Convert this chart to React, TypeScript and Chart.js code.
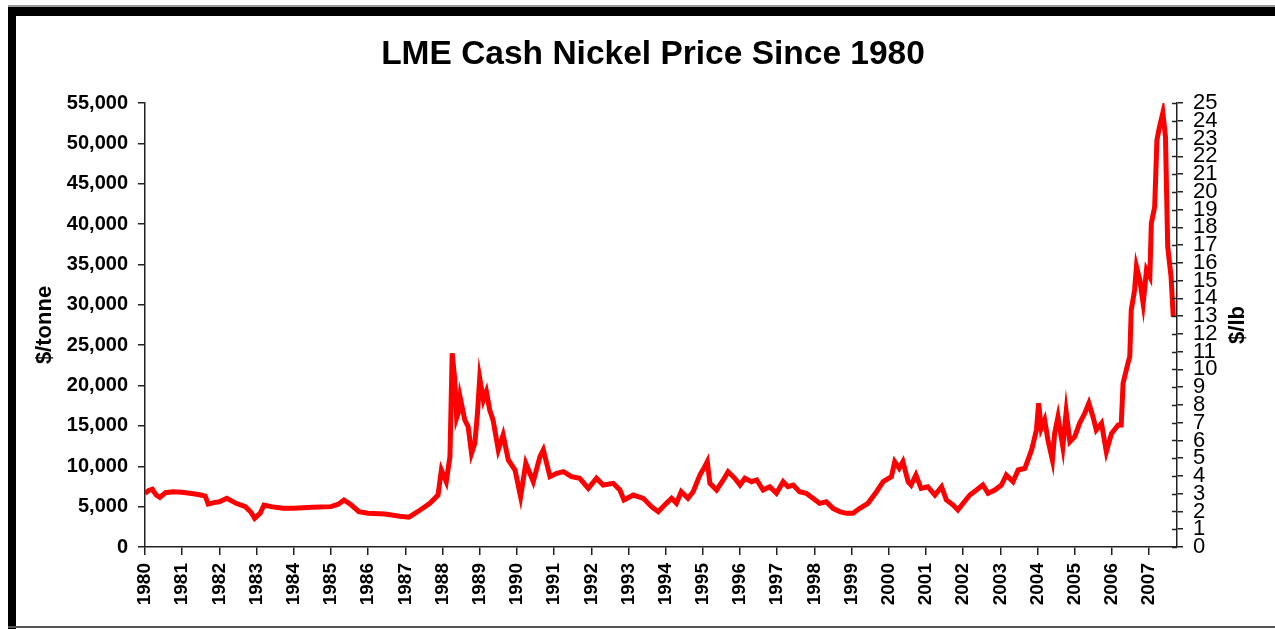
import React, { useEffect, useRef } from 'react';
import { Chart, registerables } from 'chart.js';

Chart.register(...registerables);

const titleText = 'LME Cash Nickel Price Since 1980';
const leftAxisTitle = '$/tonne';
const rightAxisTitle = '$/lb';

const yearTicks = [
  1980, 1981, 1982, 1983, 1984, 1985, 1986, 1987, 1988, 1989,
  1990, 1991, 1992, 1993, 1994, 1995, 1996, 1997, 1998, 1999,
  2000, 2001, 2002, 2003, 2004, 2005, 2006, 2007,
];

const dates = [
  1980.0, 1980.1, 1980.2, 1980.3, 1980.4, 1980.55, 1980.75, 1981.0, 1981.35, 1981.5,
  1981.62, 1981.7, 1981.85, 1982.0, 1982.2, 1982.45, 1982.7, 1982.85, 1982.95, 1983.1,
  1983.2, 1983.4, 1983.7, 1984.0, 1984.5, 1985.0, 1985.2, 1985.35, 1985.55, 1985.75,
  1986.0, 1986.45, 1986.85, 1987.1, 1987.4, 1987.66, 1987.88, 1987.97, 1988.1, 1988.2,
  1988.26, 1988.33, 1988.38, 1988.42, 1988.47, 1988.6, 1988.69, 1988.78, 1988.87, 1988.94,
  1989.0, 1989.1, 1989.18, 1989.27, 1989.36, 1989.5, 1989.63, 1989.77, 1989.95, 1990.1,
  1990.24, 1990.44, 1990.62, 1990.71, 1990.89, 1991.07, 1991.25, 1991.47, 1991.69, 1991.92,
  1992.14, 1992.32, 1992.59, 1992.77, 1992.88, 1993.13, 1993.4, 1993.62, 1993.8, 1994.02,
  1994.16, 1994.29, 1994.42, 1994.6, 1994.74, 1994.92, 1995.05, 1995.12, 1995.19, 1995.37,
  1995.55, 1995.68, 1995.86, 1996.0, 1996.13, 1996.31, 1996.45, 1996.62, 1996.8, 1996.98,
  1997.16, 1997.29, 1997.43, 1997.6, 1997.78, 1997.96, 1998.14, 1998.32, 1998.5, 1998.68,
  1998.86, 1999.04, 1999.22, 1999.44, 1999.67, 1999.85, 2000.07, 2000.16, 2000.28, 2000.38,
  2000.52, 2000.6, 2000.73, 2000.87, 2001.05, 2001.24, 2001.42, 2001.55, 2001.73, 2001.86,
  2002.0, 2002.18, 2002.36, 2002.53, 2002.67, 2002.85, 2003.03, 2003.16, 2003.34, 2003.48,
  2003.66, 2003.84, 2003.97, 2004.03, 2004.1, 2004.19, 2004.28, 2004.4, 2004.46, 2004.55,
  2004.68, 2004.77, 2004.87, 2005.0, 2005.13, 2005.27, 2005.38, 2005.49, 2005.58, 2005.72,
  2005.85, 2005.99, 2006.17, 2006.25, 2006.3, 2006.43, 2006.48, 2006.52, 2006.61, 2006.66,
  2006.75, 2006.84, 2006.93, 2007.02, 2007.06, 2007.15, 2007.21, 2007.28, 2007.37, 2007.44,
  2007.5, 2007.59, 2007.65,
];

const prices = [
  6650, 7000, 7150, 6440, 6150, 6730, 6850, 6770, 6560, 6440,
  6300, 5320, 5500, 5610, 6030, 5410, 5000, 4300, 3550, 4200,
  5200, 5000, 4790, 4790, 4920, 5000, 5300, 5820, 5200, 4370,
  4170, 4090, 3800, 3700, 4580, 5410, 6440, 9540, 8090, 11190,
  23990, 20690, 16000, 16560, 18620, 15730, 14900, 11600, 12850, 16560,
  20900, 18210, 19240, 16970, 15730, 12020, 13870, 10780, 9540, 6230,
  10370, 8090, 11190, 12020, 8710, 9130, 9330, 8710, 8510, 7270,
  8510, 7680, 7890, 7060, 5820, 6440, 6030, 5000, 4370, 5410,
  6030, 5410, 6850, 6030, 6850, 8920, 9950, 10570, 7890, 7060,
  8300, 9330, 8510, 7680, 8510, 8090, 8300, 7060, 7470, 6650,
  8090, 7470, 7680, 6850, 6650, 6030, 5410, 5610, 4790, 4370,
  4170, 4170, 4790, 5410, 6850, 8090, 8710, 10570, 9750, 10570,
  8090, 7680, 8920, 7270, 7470, 6440, 7470, 5820, 5200, 4580,
  5410, 6440, 7060, 7680, 6650, 7060, 7680, 8920, 8090, 9540,
  9750, 12020, 14490, 17800, 14700, 15730, 13250, 10780, 14080, 16140,
  12420, 16760, 13040, 13660, 15320, 16560, 17800, 16140, 14490, 15320,
  11810, 14080, 15110, 15110, 20280, 22750, 23570, 29360, 31830, 34720,
  33070, 30190, 34310, 33480, 40100, 42150, 50420, 52060, 53800, 50820,
  37200, 33480, 28520,
];

const FONT = "'Liberation Sans', Arial, sans-serif";

const framePlugin = {
  id: 'frame',
  beforeDraw(chart: any) {
    const ctx = chart.ctx;
    const w = chart.width;
    const h = chart.height;
    ctx.save();
    ctx.fillStyle = '#ffffff';
    ctx.fillRect(0, 0, w, h);
    ctx.fillStyle = '#9a9a9a';
    ctx.fillRect(8, 5, w - 8, 2);
    ctx.fillStyle = '#000000';
    ctx.fillRect(8, 7, w - 8, 9);
    ctx.fillRect(8, 7, 8, h - 7);
    ctx.fillStyle = '#555555';
    ctx.fillRect(8, 626, w - 8, 2);
    ctx.restore();
  },
  afterDraw(chart: any) {
    const ctx = chart.ctx;
    const s = chart.scales.y2;
    ctx.save();
    ctx.strokeStyle = '#222222';
    ctx.lineWidth = 1.5;
    ctx.beginPath();
    s.ticks.forEach((t: any) => {
      const y = Math.round(s.getPixelForValue(t.value)) + 0.5;
      ctx.moveTo(s.left - 5, y);
      ctx.lineTo(s.left, y);
    });
    ctx.stroke();
    ctx.fillStyle = '#000000';
    ctx.textAlign = 'center';
    ctx.textBaseline = 'middle';
    ctx.font = `bold 33.5px ${FONT}`;
    ctx.fillText(titleText, 653, 55);
    ctx.translate(1238, 325);
    ctx.rotate(-Math.PI / 2);
    ctx.font = `bold 22px ${FONT}`;
    ctx.fillText(rightAxisTitle, 0, 0);
    ctx.restore();
  },
};

export default function App() {
  const canvasRef = useRef<HTMLCanvasElement | null>(null);

  useEffect(() => {
    const canvas = canvasRef.current;
    if (!canvas) return;
    const points = dates.map((d, i) => ({ x: d, y: prices[i] }));
    const chart = new Chart(canvas, {
      type: 'line',
      data: {
        datasets: [
          {
            data: points,
            borderColor: '#ff0000',
            borderWidth: 5,
            pointRadius: 0,
            tension: 0,
            fill: false,
            yAxisID: 'y',
          },
        ],
      },
      options: {
        animation: false,
        responsive: false,
        layout: { padding: { top: 103, left: 0, right: 0, bottom: 0 } },
        plugins: {
          legend: { display: false },
          tooltip: { enabled: false },
          title: { display: false },
        },
        scales: {
          x: {
            type: 'linear',
            min: 1980,
            max: 2007.75,
            afterBuildTicks: (scale: any) => {
              scale.ticks = yearTicks.map((v) => ({ value: v }));
            },
            afterFit: (scale: any) => {
              scale.height = 82;
            },
            ticks: {
              autoSkip: false,
              minRotation: 90,
              maxRotation: 90,
              padding: 8,
              color: '#000000',
              font: { family: FONT, size: 19, weight: 'bold' },
              callback: (v: any) => String(v),
            },
            grid: {
              display: true,
              drawOnChartArea: false,
              drawTicks: true,
              tickLength: 8,
              color: '#222222',
              lineWidth: 1.5,
            },
            border: { display: true, color: '#222222', width: 1.5 },
          },
          y: {
            type: 'linear',
            position: 'left',
            min: 0,
            max: 55000,
            afterFit: (scale: any) => {
              scale.width = 145;
            },
            ticks: {
              stepSize: 5000,
              autoSkip: false,
              padding: 10,
              color: '#000000',
              font: { family: FONT, size: 20, weight: 'bold' },
              callback: (v: any) => Number(v).toLocaleString('en-US'),
            },
            grid: {
              display: true,
              drawOnChartArea: false,
              drawTicks: true,
              tickLength: 7,
              color: '#222222',
              lineWidth: 1.5,
            },
            border: { display: true, color: '#222222', width: 1.5 },
            title: {
              display: true,
              text: leftAxisTitle,
              color: '#000000',
              font: { family: FONT, size: 22, weight: 'bold' },
              padding: { top: 32, bottom: 0 },
            },
          },
          y2: {
            type: 'linear',
            position: 'right',
            min: 0,
            max: 25,
            afterFit: (scale: any) => {
              scale.width = 98;
            },
            ticks: {
              stepSize: 1,
              autoSkip: false,
              padding: 10,
              color: '#000000',
              font: { family: FONT, size: 22 },
            },
            grid: {
              display: true,
              drawOnChartArea: false,
              drawTicks: true,
              tickLength: 6,
              color: '#222222',
              lineWidth: 1.5,
            },
            border: { display: true, color: '#222222', width: 1.5 },
          },
        },
      },
      plugins: [framePlugin],
    } as any);
    return () => {
      chart.destroy();
    };
  }, []);

  return (
    <div style={{ position: 'fixed', left: 0, top: 0, width: 1275, height: 629, background: '#fff' }}>
      <canvas ref={canvasRef} width={1275} height={629} style={{ display: 'block' }} />
    </div>
  );
}
